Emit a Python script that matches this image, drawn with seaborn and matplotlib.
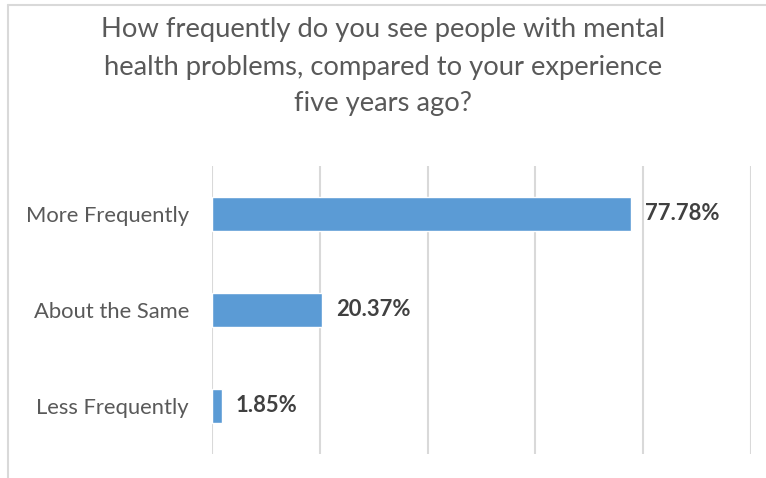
import matplotlib
matplotlib.use("Agg")
import matplotlib.pyplot as plt
from matplotlib.lines import Line2D
import seaborn as sns
import pandas as pd

categories = ["More Frequently", "About the Same", "Less Frequently"]
percentages = [77.78, 20.37, 1.85]
title_lines = [
    "How frequently do you see people with mental",
    "health problems, compared to your experience",
    "five years ago?",
]

sns.set_theme(style="white")
plt.rcParams["font.family"] = ["Lato", "DejaVu Sans"]

df = pd.DataFrame({"category": categories, "pct": percentages})

W, H = 766, 478
fig = plt.figure(figsize=(W / 100, H / 100), dpi=100)
ax = fig.add_axes([212 / W, 1 - 454 / H, (751 - 212) / W, (454 - 166) / H])

sns.barplot(data=df, x="pct", y="category", orient="h", color="#5b9bd5",
            saturation=1, width=0.36, ax=ax, zorder=3)

ax.set_xlim(0, 100)
ax.set_ylim(2.5, -0.5)
ax.set_xticks([0, 20, 40, 60, 80, 100])
ax.set_xticklabels([])
ax.xaxis.grid(True, color="#d9d9d9", linewidth=1.5, zorder=0)
ax.yaxis.grid(False)
for s in ax.spines.values():
    s.set_visible(False)
ax.tick_params(axis="both", length=0)
ax.tick_params(axis="y", pad=16.5, labelsize=15.8, labelcolor="#595959")
ax.set_xlabel("")
ax.set_ylabel("")

ax.bar_label(ax.containers[0], labels=[f"{v:.2f}%" for v in percentages],
             padding=10, fontsize=15.8, fontweight="bold", color="#404040")

# three-line title, centred over the figure
for line, y in zip(title_lines, [30, 67, 103]):
    fig.text(383 / W, 1 - y / H, line, ha="center", va="center",
             fontsize=19.7, color="#595959")

# chart frame (top and left edges)
fig.add_artist(Line2D([8 / W, 1], [1 - 5 / H, 1 - 5 / H],
                      transform=fig.transFigure, color="#d9d9d9", linewidth=1.5))
fig.add_artist(Line2D([8 / W, 8 / W], [0, 1 - 5 / H],
                      transform=fig.transFigure, color="#d9d9d9", linewidth=1.5))

fig.savefig("out.png", dpi=100, facecolor="white")
